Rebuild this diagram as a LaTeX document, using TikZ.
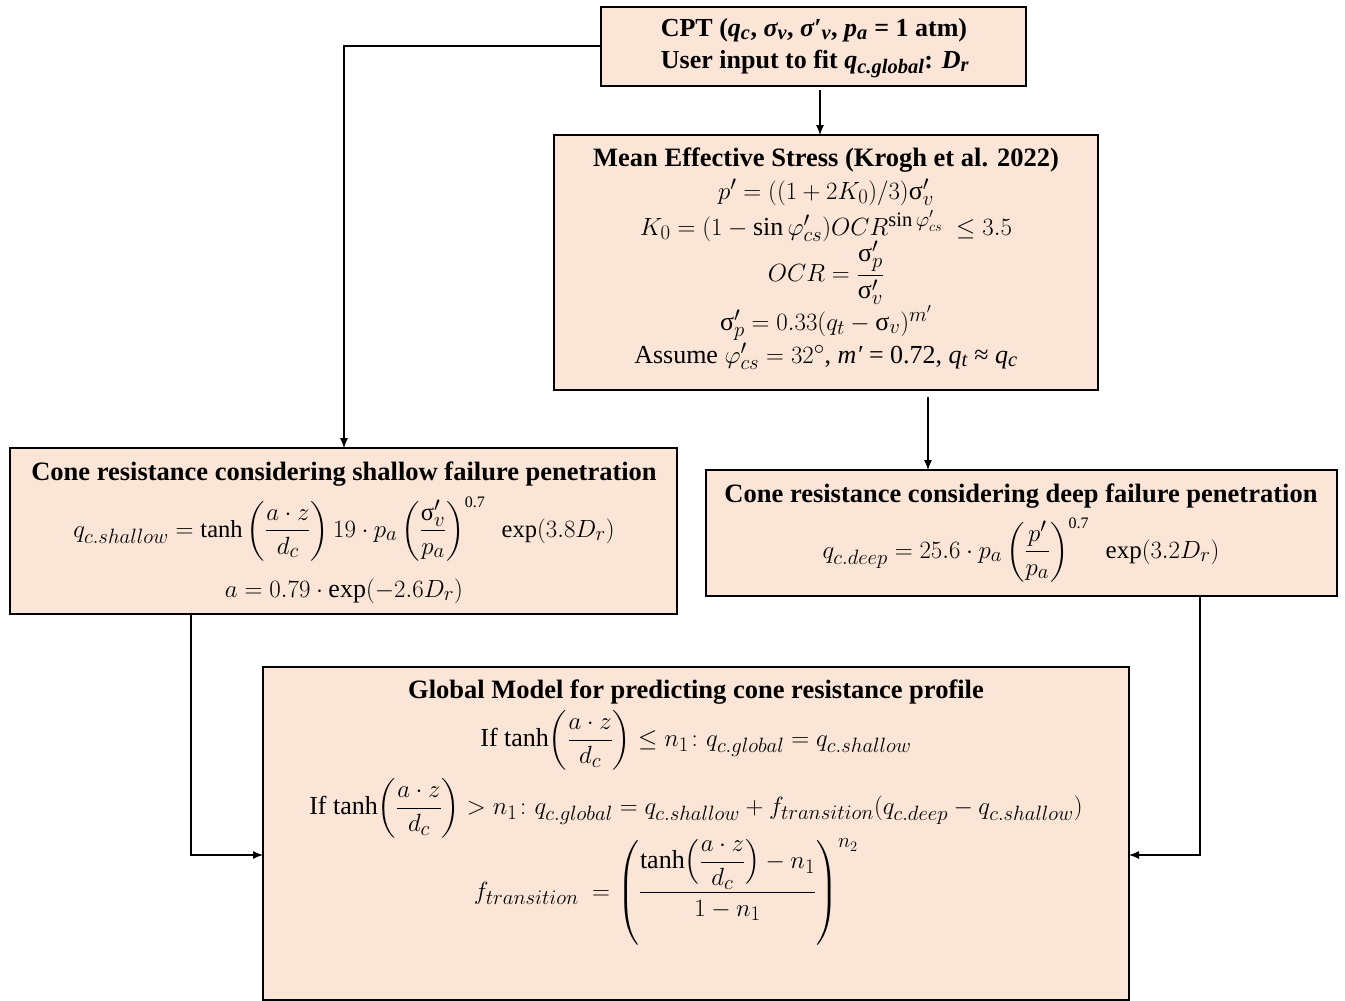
\documentclass[tikz,border=0pt]{standalone}
\usepackage{amsmath}
\usepackage{fontspec}
\setmainfont{Liberation Serif}
\usetikzlibrary{arrows.meta}
\DeclareMathSizes{26}{26}{20.5}{15}
\DeclareMathSizes{25}{25}{20}{14.5}
\DeclareMathSizes{24.5}{24.5}{19.5}{14}
\newcommand\usig{\text{\normalfont σ}}
\newcommand\fn[1]{\text{\normalfont #1}}
\newcommand\expo{\text{\normalfont\fontsize{16}{16}\selectfont 0.7}}
\definecolor{peach}{HTML}{FBE5D6}
\begin{document}
\begin{tikzpicture}[x=1pt,y=-1pt,
  box/.style={draw=black,line width=1.6pt,fill=peach,anchor=north west,inner sep=0pt,outer sep=0pt},
  ttl/.style={font=\fontsize{26.5}{30}\selectfont\bfseries,inner sep=0pt},
  cpttxt/.style={font=\fontsize{26}{30}\selectfont\bfseries,inner sep=0pt},
  eq/.style={font=\fontsize{26}{30}\selectfont,inner sep=0pt},
  eqs/.style={font=\fontsize{25}{29}\selectfont,inner sep=0pt},
  eqss/.style={font=\fontsize{24.5}{28}\selectfont,inner sep=0pt},
  conn/.style={line width=1.1pt,-{Latex[length=10pt,width=8pt]}}]
\useasboundingbox (0,0) rectangle (1345,1001);
% boxes
\node[box,minimum width=425pt,minimum height=79pt] (cpt) at (601,7) {};
\node[box,minimum width=544pt,minimum height=255pt] (mes) at (554,135) {};
\node[box,minimum width=667pt,minimum height=166pt] (sh) at (10,448) {};
\node[box,minimum width=631pt,minimum height=126pt] (dp) at (706,470) {};
\node[box,minimum width=866pt,minimum height=333pt] (gl) at (263,667) {};
% CPT
\node[cpttxt] (cptA) at (814,30) {CPT (\textit{q\textsubscript{c}}, \textit{σ\textsubscript{v}}, \textit{σ′\textsubscript{v}}, \textit{p\textsubscript{a}} = 1 atm)};
\node[cpttxt] (cptB) at (815,64) {User input to fit \textit{q\textsubscript{c.global}}: \textit{D\textsubscript{r}}};
% MES
\node[ttl] (mesT) at (826,160) {Mean Effective Stress (Krogh et al. 2022)};
\node[eq] (mes1) at (826,192) {$p' = ((1+2K_0)/3)\usig'_v$};
\node[eq] (mes2) at (826,226) {$K_0 = (1-\sin\varphi'_{cs})OCR^{\sin\varphi'_{cs}}\ \le 3.5$};
\node[eq] (mes3) at (826,273) {$OCR = \dfrac{\usig'_p}{\usig'_v}$};
\node[eq] (mes4) at (826,323) {$\usig'_p = 0.33(q_t-\usig_v)^{m'}$};
\node[eq] (mes5) at (826,356) {Assume $\varphi'_{cs}=32^\circ$, \textit{m′} = 0.72, \textit{q\textsubscript{t}} ≈ \textit{q\textsubscript{c}}};
% shallow
\node[ttl] (shT) at (344,474) {Cone resistance considering shallow failure penetration};
\node[eqss] (sh1) at (344,529) {$q_{c.shallow} = \fn{tanh}\left(\dfrac{a\cdot z}{d_c}\right)19\cdot p_a\left(\dfrac{\usig'_v}{p_a}\right)^{\expo}\ \ \fn{exp}(3.8D_r)$};
\node[eq] (sh2) at (344,591) {$a = 0.79\cdot\fn{exp}(-2.6D_r)$};
% deep
\node[ttl] (dpT) at (1021,496) {Cone resistance considering deep failure penetration};
\node[eqs] (dp1) at (1021,550) {$q_{c.deep} = 25.6\cdot p_a\left(\dfrac{p'}{p_a}\right)^{\expo}\ \ \fn{exp}(3.2D_r)$};
% global
\node[ttl] (glT) at (696,692) {Global Model for predicting cone resistance profile};
\node[eq] (gl1) at (696,740) {If tanh$\left(\dfrac{a\cdot z}{d_c}\right)\le n_1\colon q_{c.global} = q_{c.shallow}$};
\node[eq] (gl2) at (696,808) {If tanh$\left(\dfrac{a\cdot z}{d_c}\right)> n_1\colon q_{c.global} = q_{c.shallow}+f_{transition}(q_{c.deep}-q_{c.shallow})$};
\node[eq] (gl3) at (666,892) {$f_{transition}\ = \left(\dfrac{\fn{tanh}\Bigl(\dfrac{a\cdot z}{d_c}\Bigr)-n_1}{1-n_1}\right)^{n_2}$};
% connectors
\draw[conn] (cpt.west|-0,46) -| (sh.north-|344,0);
\draw[conn,shorten <=4pt] (cpt.south-|820,0) -- (mes.north-|820,0);
\draw[conn,shorten <=7pt] (mes.south-|928,0) -- (dp.north-|928,0);
\draw[conn] (sh.south-|191,0) |- (gl.west|-0,855);
\draw[conn] (dp.south-|1200,0) |- (gl.east|-0,855);
\end{tikzpicture}
\end{document}
